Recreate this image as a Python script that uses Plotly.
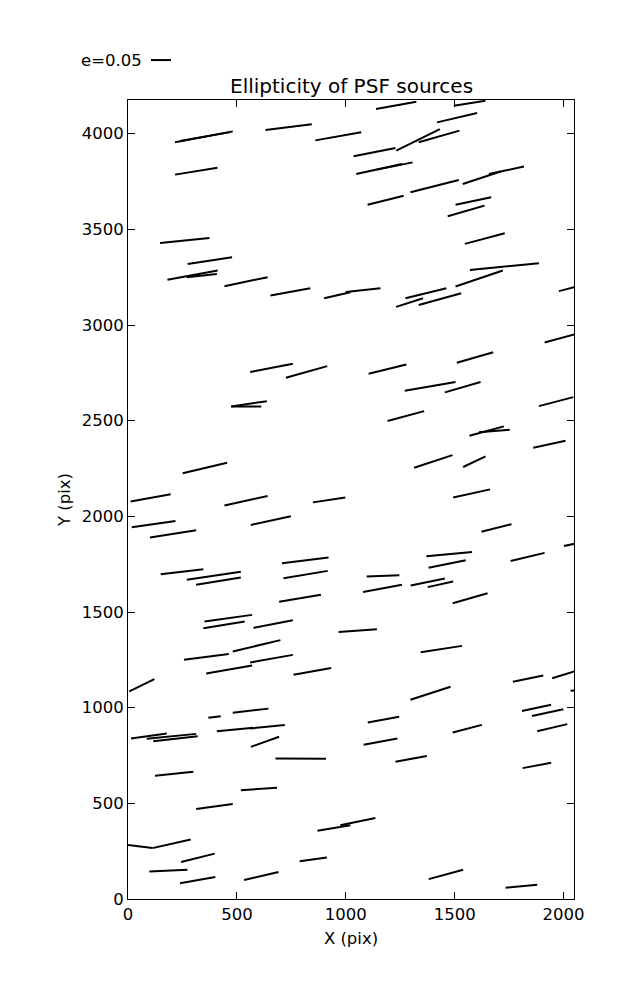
import plotly.graph_objects as go

# Whisker end points (detector pixels)
x_start = [216, 240, 631, 860, 216, 147, 274, 181, 270, 443, 654, 901, 1000,
           1139, 1496, 1419, 1232, 1335, 1036, 1048, 1143, 1297, 1537, 1657, 1100, 1504, 1468, 1547, 1570, 1504, 1979, 1274, 1231, 1335,
           561, 725, 474, 474, 251, 12, 443, 849,
           1913, 1510, 1105, 1271, 1455, 1887, 1192, 1568, 1611, 1861, 1314, 1539, 1493,
           17, 101, 564, 150, 270, 313, 707, 714, 694, 351, 346, 576, 967, 481, 257, 359, 561, 760, 6,
           1623, 2002, 1370, 1380, 1757, 1096, 1079, 1298, 1376, 1491, 1344, 1767, 1948, 1297, 2032,
           369, 481, 14, 86, 116, 408, 561, 564, 677, 124, 518, 313, 870, 975, 0, 112, 244, 98, 239, 533, 788,
           1809, 1855, 1879, 1101, 1082, 1491, 1228, 1812, 1381, 1734]
y_start = [3955, 3962, 4019, 3965, 3786, 3429, 3319, 3236, 3250, 3203, 3154, 3140, 3172,
           4129, 4146, 4059, 3911, 3955, 3882, 3789, 3812, 3694, 3737, 3789, 3629, 3629, 3568, 3424, 3288, 3201, 3177, 3140, 3095, 3105,
           2754, 2724, 2574, 2574, 2225, 2078, 2057, 2073,
           2909, 2803, 2745, 2656, 2648, 2576, 2498, 2421, 2440, 2359, 2254, 2258, 2098,
           1943, 1889, 1955, 1697, 1668, 1642, 1755, 1677, 1553, 1450, 1415, 1417, 1395, 1294, 1250, 1179, 1236, 1172, 1085,
           1919, 1845, 1791, 1731, 1767, 1685, 1605, 1638, 1630, 1546, 1290, 1135, 1154, 1041, 1088,
           947, 973, 839, 837, 825, 877, 891, 795, 734, 644, 569, 470, 357, 385, 282, 266, 193, 144, 82, 99, 197,
           983, 957, 877, 922, 806, 870, 717, 684, 104, 59]
x_end = [481, 470, 844, 1071, 411, 374, 478, 412, 408, 641, 837, 1021, 1159,
         1324, 1641, 1603, 1432, 1522, 1228, 1258, 1307, 1519, 1711, 1818, 1266, 1668, 1637, 1730, 1887, 1721, 2060, 1462, 1355, 1530,
         757, 915, 612, 638, 455, 196, 641, 998,
         2060, 1677, 1278, 1504, 1619, 2045, 1360, 1726, 1753, 2009, 1490, 1642, 1663,
         218, 313, 748, 346, 518, 518, 921, 917, 886, 570, 536, 757, 1143, 700, 463, 570, 757, 933, 121,
         1761, 2060, 1580, 1551, 1913, 1246, 1258, 1455, 1493, 1651, 1534, 1907, 2060, 1481, 2060,
         426, 645, 178, 313, 320, 576, 720, 694, 909, 300, 684, 481, 1021, 1136, 112, 288, 398, 273, 401, 691, 913,
         1943, 1999, 2017, 1245, 1237, 1625, 1372, 1943, 1539, 1879]
y_end = [4012, 4008, 4049, 4007, 3822, 3455, 3354, 3285, 3267, 3250, 3192, 3171, 3192,
         4167, 4172, 4108, 4024, 4016, 3925, 3842, 3850, 3758, 3802, 3828, 3676, 3668, 3624, 3480, 3323, 3285, 3201, 3192, 3140, 3166,
         2797, 2785, 2574, 2602, 2280, 2115, 2106, 2098,
         2954, 2858, 2794, 2702, 2702, 2623, 2550, 2470, 2453, 2395, 2320, 2313, 2141,
         1976, 1927, 2000, 1724, 1710, 1680, 1785, 1715, 1590, 1485, 1450, 1457, 1410, 1353, 1281, 1220, 1276, 1207, 1149,
         1959, 1859, 1814, 1771, 1809, 1692, 1642, 1675, 1659, 1598, 1323, 1168, 1193, 1109, 1092,
         955, 995, 865, 863, 851, 895, 910, 848, 733, 665, 581, 496, 386, 423, 266, 311, 237, 153, 115, 141, 217,
         1015, 992, 914, 952, 839, 910, 747, 712, 153, 75]

x_ticks = [0, 500, 1000, 1500, 2000]
y_ticks = [0, 500, 1000, 1500, 2000, 2500, 3000, 3500, 4000]
x_range = [0, 2048]
y_range = [0, 4176]
key_label = "e=0.05"

xs, ys = [], []
for a, b, c, d in zip(x_start, y_start, x_end, y_end):
    xs += [a, c, None]
    ys += [b, d, None]

FONT = "DejaVu Sans"
fig = go.Figure()
fig.add_trace(go.Scatter(x=xs, y=ys, mode="lines",
                         line=dict(color="black", width=2),
                         hoverinfo="skip", showlegend=False))

axis_common = dict(showgrid=False, zeroline=False, showline=True, linecolor="black",
                   linewidth=1, mirror="ticks", ticks="inside", ticklen=7,
                   tickcolor="black", tickwidth=1,
                   tickfont=dict(family=FONT, size=16.5, color="black"))
fig.update_xaxes(range=x_range, tickvals=x_ticks, ticktext=[str(v) for v in x_ticks],
                 title=dict(text="X (pix)", font=dict(family=FONT, size=16.5, color="black"), standoff=9),
                 **axis_common)
fig.update_yaxes(range=y_range, tickvals=y_ticks, ticktext=[str(v) for v in y_ticks],
                 title=dict(text="Y (pix)", font=dict(family=FONT, size=16.5, color="black"), standoff=6),
                 **axis_common)

# page body adds an 8 px offset, so the figure is 8 px smaller and margins shifted
fig.update_layout(
    width=629, height=992,
    margin=dict(l=120, r=63, t=92, b=101),
    paper_bgcolor="white", plot_bgcolor="white",
)

# title as annotation just above the plot area
fig.add_annotation(text="Ellipticity of PSF sources", xref="paper", yref="paper",
                   x=0.5, y=1.0, xanchor="center", yanchor="bottom", yshift=0,
                   showarrow=False, font=dict(family=FONT, size=20, color="black"))

# quiver key
fig.add_annotation(text=key_label, xref="paper", yref="paper", x=0.03, y=1.05,
                   xanchor="right", yanchor="middle", showarrow=False, xshift=3,
                   font=dict(family=FONT, size=16.5, color="black"))
fig.add_shape(type="line", xref="paper", yref="paper", x0=0.0516, x1=0.0964,
              y0=1.05, y1=1.05, line=dict(color="black", width=2))

fig.write_html("out.html")
